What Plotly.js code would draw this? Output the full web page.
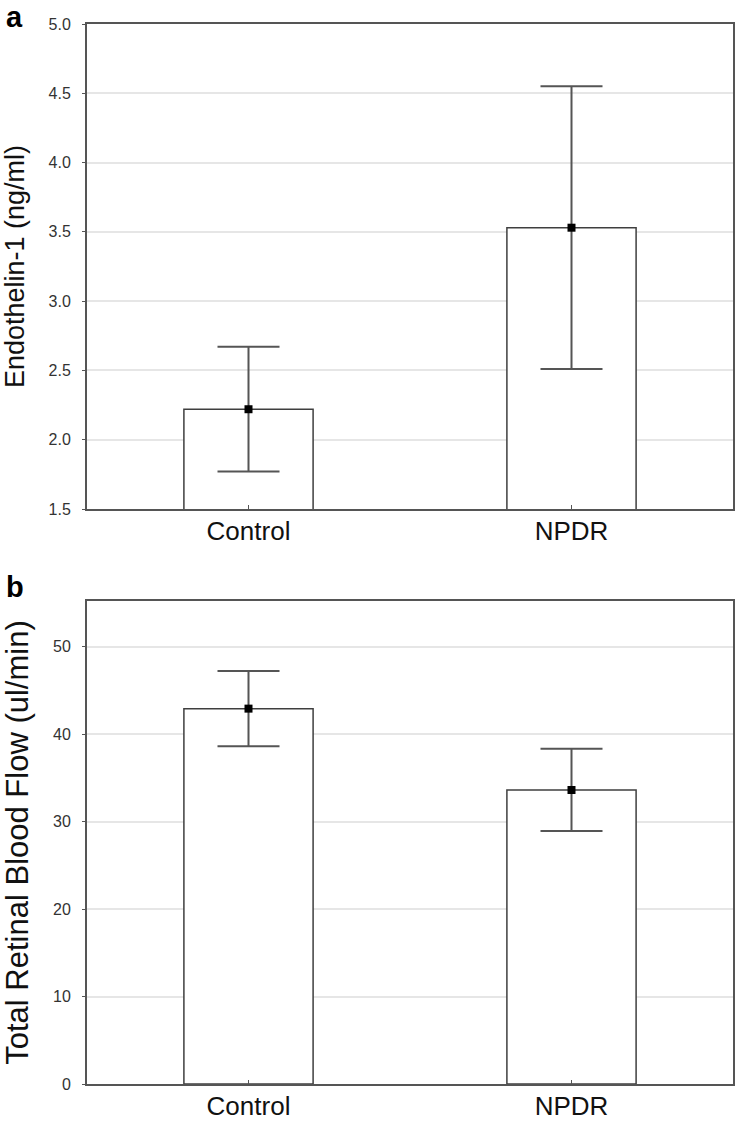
<!DOCTYPE html>
<html>
<head>
<meta charset="utf-8">
<script src="https://cdn.plot.ly/plotly-3.0.1.min.js"></script>
<style>html,body{margin:0;padding:0;background:#fff;}#chart{width:737px;height:1121px;}</style>
</head>
<body>
<div id="chart"></div>
<script>
// Data
const groups = ["Control", "NPDR"];
const et1Mean = [2.22, 3.53];
const et1Err = [0.45, 1.02];
const flowMean = [42.9, 33.6];
const flowErr = [4.3, 4.7];
const et1Ticks = [1.5, 2.0, 2.5, 3.0, 3.5, 4.0, 4.5, 5.0];
const flowTicks = [0, 10, 20, 30, 40, 50];

const FONT = "Liberation Sans, Arial, sans-serif";
const lineCol = "#555555";

function barTrace(y, xa, ya) {
  return {
    type: "bar", x: groups, y: y, xaxis: xa, yaxis: ya, width: 0.4,
    marker: {color: "#ffffff", line: {color: "#3f3f3f", width: 1.5}},
    hoverinfo: "skip", showlegend: false
  };
}
function errTrace(y, e, xa, ya) {
  return {
    type: "scatter", mode: "markers", x: groups, y: y, xaxis: xa, yaxis: ya,
    marker: {symbol: "square", size: 8, color: "#000000"},
    error_y: {type: "data", array: e, visible: true, color: lineCol, thickness: 2, width: 31},
    showlegend: false
  };
}

const data = [
  barTrace(et1Mean, "x", "y"),
  errTrace(et1Mean, et1Err, "x", "y"),
  barTrace(flowMean, "x2", "y2"),
  errTrace(flowMean, flowErr, "x2", "y2")
];

function xax(anchor) {
  return {
    anchor: anchor, range: [-0.5, 1.5], type: "category",
    showline: true, mirror: true, linecolor: lineCol, linewidth: 2,
    ticks: "inside", ticklen: 4, tickcolor: lineCol, tickwidth: 1,
    ticklabelstandoff: -2,
    tickfont: {family: FONT, size: 26, color: "#111"},
    showgrid: false, zeroline: false, fixedrange: true
  };
}
function yax(anchor, domain, range, ticks, fmt, title, tsize) {
  return {
    anchor: anchor, domain: domain, range: range,
    tickmode: "array", tickvals: ticks, ticktext: ticks.map(v => v.toFixed(fmt)),
    showline: true, mirror: true, linecolor: lineCol, linewidth: 2,
    ticks: "outside", ticklen: 3, tickcolor: lineCol, tickwidth: 1,
    ticklabelstandoff: 8,
    tickfont: {family: FONT, size: 16, color: "#333"},
    showgrid: true, gridcolor: "#e6e6e6", gridwidth: 2,
    zeroline: false, fixedrange: true,
    title: {text: title, font: {family: FONT, size: tsize, color: "#111"}, standoff: 18}
  };
}

const H = 1121;
const layout = {
  width: 737, height: H,
  margin: {l: 87, r: 4, t: 0, b: 0},
  paper_bgcolor: "#ffffff", plot_bgcolor: "#ffffff",
  xaxis: xax("y"),
  yaxis: yax("x", [1 - 509 / H, 1 - 24 / H], [1.5, 5.0], et1Ticks, 1, "Endothelin-1 (ng/ml)", 27),
  xaxis2: xax("y2"),
  yaxis2: yax("x2", [1 - 1084 / H, 1 - 601 / H], [0, 55.2], flowTicks, 0, "Total Retinal Blood Flow (ul/min)", 31),
  annotations: [
    {text: "<b>a</b>", xref: "paper", yref: "paper", x: -82 / 646, y: 1,
     xanchor: "left", yanchor: "top", borderpad: 0, showarrow: false, font: {family: FONT, size: 29, color: "#000"}},
    {text: "<b>b</b>", xref: "paper", yref: "paper", x: -82 / 646, y: 1 - 570 / H,
     xanchor: "left", yanchor: "top", borderpad: 0, showarrow: false, font: {family: FONT, size: 29, color: "#000"}}
  ],
  showlegend: false
};

Plotly.newPlot("chart", data, layout, {displayModeBar: false, staticPlot: true});
</script>
</body>
</html>
